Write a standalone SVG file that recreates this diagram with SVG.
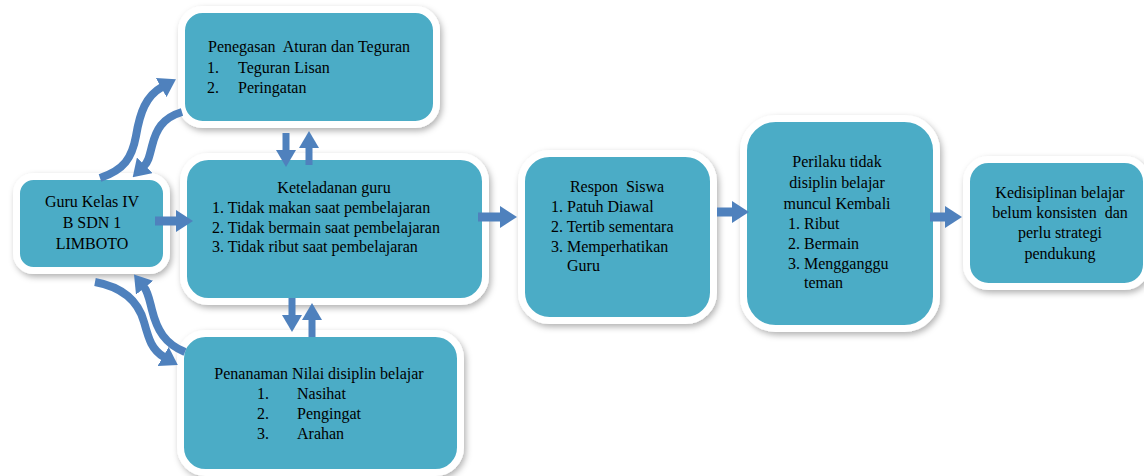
<svg xmlns="http://www.w3.org/2000/svg" width="1144" height="476" viewBox="0 0 1144 476">
<defs>
<filter id="sh" x="-10%" y="-10%" width="125%" height="130%">
<feDropShadow dx="2" dy="3" stdDeviation="3" flood-color="#000" flood-opacity="0.3"/>
</filter>
<marker id="ah" viewBox="0 0 17 22" refX="1" refY="11" markerWidth="17" markerHeight="22" markerUnits="userSpaceOnUse" orient="auto">
<path d="M0,0 L17,11 L0,22 z" fill="#4f81bd"/>
</marker>
<marker id="ahs" viewBox="0 0 17 20" refX="1" refY="10" markerWidth="17" markerHeight="20" markerUnits="userSpaceOnUse" orient="auto">
<path d="M0,0 L17,10 L0,20 z" fill="#4f81bd"/>
</marker>
</defs>
<style>
.box{fill:#4bacc6;stroke:#fff;stroke-width:7;filter:url(#sh)}
.t{font-family:"Liberation Serif","Times New Roman",serif;font-size:16px;fill:#000;white-space:pre}
.c{text-anchor:middle}
.ln{stroke:#4f81bd;stroke-width:9;fill:none;marker-end:url(#ah)}
.vl{stroke:#4f81bd;stroke-width:7;fill:none;marker-end:url(#ahs)}
.cv{stroke:#4f81bd;stroke-width:8;fill:none;marker-end:url(#ah)}
</style>
<rect width="1144" height="476" fill="#fff"/>

<g id="node-guru">
<rect class="box" x="16.5" y="176.5" width="150" height="94" rx="17"/>
<text class="t c" x="92" y="207">Guru Kelas IV</text>
<text class="t c" x="92" y="228">B SDN 1</text>
<text class="t c" x="92" y="249">LIMBOTO</text>
</g>

<g id="node-penegasan">
<rect class="box" x="181.5" y="9.5" width="255" height="115" rx="21"/>
<text class="t" x="208" y="52" xml:space="preserve">Penegasan  Aturan dan Teguran</text>
<text class="t" x="207" y="73">1.</text><text class="t" x="238" y="73">Teguran Lisan</text>
<text class="t" x="207" y="93">2.</text><text class="t" x="238" y="93">Peringatan</text>
</g>

<g id="node-keteladanan">
<rect class="box" x="183.5" y="156.5" width="302" height="145" rx="25"/>
<text class="t c" x="334" y="193">Keteladanan guru</text>
<text class="t" x="212" y="213">1. Tidak makan saat pembelajaran</text>
<text class="t" x="212" y="233">2. Tidak bermain saat pembelajaran</text>
<text class="t" x="212" y="252">3. Tidak ribut saat pembelajaran</text>
</g>

<g id="node-penanaman">
<rect class="box" x="180.5" y="333.5" width="280" height="139" rx="25"/>
<text class="t c" x="319" y="379">Penanaman Nilai disiplin belajar</text>
<text class="t" x="257" y="399">1.</text><text class="t" x="297" y="399">Nasihat</text>
<text class="t" x="257" y="419">2.</text><text class="t" x="297" y="419">Pengingat</text>
<text class="t" x="257" y="439">3.</text><text class="t" x="297" y="439">Arahan</text>
</g>

<g id="node-respon">
<rect class="box" x="521.5" y="153.5" width="192" height="167" rx="28"/>
<text class="t c" x="617" y="192" xml:space="preserve">Respon  Siswa</text>
<text class="t" x="551" y="212">1. Patuh Diawal</text>
<text class="t" x="551" y="232">2. Tertib sementara</text>
<text class="t" x="551" y="252">3. Memperhatikan</text>
<text class="t" x="567" y="271">Guru</text>
</g>

<g id="node-perilaku">
<rect class="box" x="743.5" y="118.5" width="193" height="210" rx="32"/>
<text class="t c" x="837" y="167">Perilaku tidak</text>
<text class="t c" x="837" y="188">disiplin belajar</text>
<text class="t c" x="837" y="209">muncul Kembali</text>
<text class="t" x="788" y="229">1. Ribut</text>
<text class="t" x="788" y="249">2. Bermain</text>
<text class="t" x="788" y="269">3. Mengganggu</text>
<text class="t" x="804" y="288">teman</text>
</g>

<g id="node-kedisiplinan">
<rect class="box" x="966.5" y="159.5" width="180" height="127" rx="22"/>
<text class="t c" x="1060" y="198">Kedisiplinan belajar</text>
<text class="t c" x="1060" y="218" xml:space="preserve">belum konsisten  dan</text>
<text class="t c" x="1060" y="238">perlu strategi</text>
<text class="t c" x="1060" y="259">pendukung</text>
</g>

<g id="connectors">
<line class="ln" x1="155" y1="221" x2="177" y2="221"/>
<line class="ln" x1="478" y1="217" x2="501" y2="217"/>
<line class="ln" x1="717" y1="212" x2="733" y2="212"/>
<line class="ln" x1="930" y1="217" x2="946" y2="217"/>
<line class="vl" x1="286" y1="133" x2="286" y2="151"/>
<line class="vl" x1="309" y1="165" x2="309" y2="147"/>
<line class="vl" x1="292" y1="298" x2="292" y2="316"/>
<line class="vl" x1="312" y1="337" x2="312" y2="319"/>
<path class="cv" d="M100,178 C124,170 132,158 136,136 C140,112 146,96 162,87"/>
<path class="cv" d="M182,112 C162,118 156,130 152,146 C149,158 148,162 144,166"/>
<path class="cv" d="M95,282 C122,287 138,300 144,322 C149,340 152,350 164,357"/>
<path class="cv" d="M185,352 C165,344 157,330 152,310 C149,298 148,292 144,287"/>
</g>
</svg>
